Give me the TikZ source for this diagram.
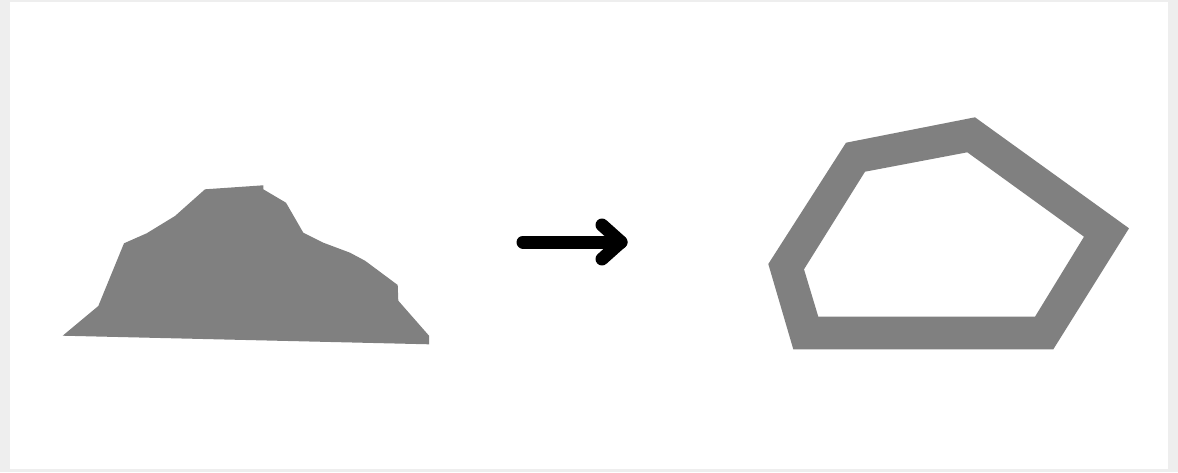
\documentclass[tikz,border=0pt]{standalone}
\definecolor{framegray}{HTML}{EEEEEE}
\definecolor{shapegray}{HTML}{808080}
\tikzset{
  blob/.style={fill=shapegray, draw=none},
  arrowline/.style={line width=13pt, line cap=round, line join=round, draw=black}
}
\begin{document}
\begin{tikzpicture}[x=1pt,y=-1pt]
\useasboundingbox (0,0) rectangle (1178,472);
\fill[framegray] (0,0) rectangle (1178,472);
\fill[white] (10,2) rectangle (1168,469);
% left irregular shape
\path[blob] (62.7,335.7) -- (98.3,306) -- (124,243.3) -- (146.7,233.3) -- (175,216)
  -- (205,189.3) -- (263.3,185.3) -- (263.3,189.3) -- (286,202.7) -- (303.3,232.7)
  -- (323.3,242.7) -- (350,252.7) -- (365,260.7) -- (397.7,285) -- (398.3,300.7)
  -- (429,335.7) -- (429,344.3) -- cycle;
% arrow
\coordinate (as) at (523,242);
\coordinate (at) at (621,242);
\coordinate (au) at (602,225);
\coordinate (al) at (602,259);
\draw[arrowline] (as) -- (at);
\draw[arrowline] (au) -- (at) -- (al);
% right ring polygon
\path[blob, even odd rule]
  (846,142.7) -- (975,117.3) -- (1129,228.3) -- (1053.3,349.3) -- (793.3,349.3) -- (768.3,264) -- cycle
  (865,171.7) -- (967.3,152.3) -- (1084,236.7) -- (1035,316.7) -- (818.3,316.7) -- (804,269.3) -- cycle;
\end{tikzpicture}
\end{document}
